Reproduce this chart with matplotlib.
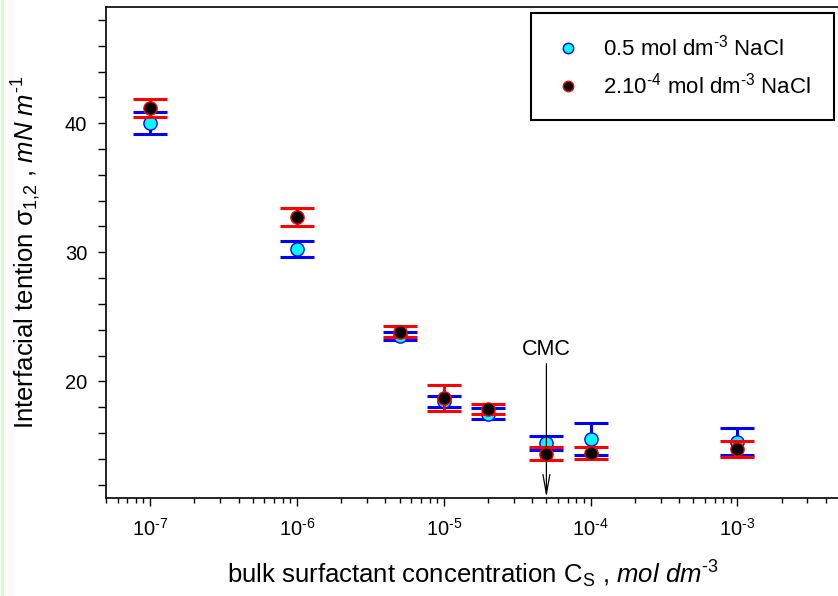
import numpy as np
import matplotlib
matplotlib.use("Agg")
import matplotlib.pyplot as plt
from matplotlib.ticker import LogLocator, MultipleLocator, NullFormatter, FuncFormatter

plt.rcParams['font.family'] = ['Liberation Sans', 'DejaVu Sans']
plt.rcParams['mathtext.fontset'] = 'custom'
plt.rcParams['mathtext.rm'] = 'Liberation Sans'
plt.rcParams['mathtext.it'] = 'Liberation Sans:italic'
plt.rcParams['axes.unicode_minus'] = False

# data
conc = [1e-7, 1e-6, 5e-6, 1e-5, 2e-5, 5e-5, 1e-4, 1e-3]
sig_nacl_05 = [40.0, 30.25, 23.5, 18.47, 17.5, 15.25, 15.55, 15.33]
err_nacl_05 = [0.85, 0.6, 0.33, 0.43, 0.4, 0.55, 1.22, 1.03]
sig_nacl_2e4 = [41.16, 32.72, 23.85, 18.68, 17.86, 14.38, 14.45, 14.77]
err_nacl_2e4 = [0.7, 0.72, 0.43, 1.0, 0.38, 0.5, 0.48, 0.6]
cmc = 5e-5

W, H = 838, 596
fig = plt.figure(figsize=(W / 100, H / 100), dpi=100)
ax = fig.add_axes([106 / W, 1 - 497.5 / H, (840 - 106) / W, (497.5 - 7) / H])

eb1 = ax.errorbar(conc, sig_nacl_05, yerr=err_nacl_05, fmt='o', color='#0000ff',
                  mfc='#00ffff', mec='#0000ff', mew=1, ms=9.5, elinewidth=2.2,
                  capsize=12, zorder=2)
eb2 = ax.errorbar(conc, sig_nacl_2e4, yerr=err_nacl_2e4, fmt='o', color='#ff0000',
                  mfc='black', mec='#ff0000', mew=1, ms=9.5, elinewidth=2.2,
                  capsize=12, zorder=3)
for eb in (eb1, eb2):
    for cap in eb[1]:
        cap.set_markeredgewidth(2.2)

# legend shows markers only
h1, = ax.plot([], [], 'o', mfc='#00ffff', mec='#0000ff', mew=1, ms=7.5)
h2, = ax.plot([], [], 'o', mfc='black', mec='#ff0000', mew=1, ms=7.5)
leg = ax.legend([h1, h2],
                ['0.5 mol dm$^{\\text{-3}}$ NaCl',
                 '2.10$^{\\text{-4}}$ mol dm$^{\\text{-3}}$ NaCl'],
                loc='upper left', bbox_to_anchor=(531 / W, 1 - 13.3 / H, 303 / W, 0),
                bbox_transform=fig.transFigure, mode='expand', borderaxespad=0,
                fontsize=16, fancybox=False, framealpha=1, edgecolor='black',
                borderpad=0.95, handlelength=1.4, handletextpad=0.9, labelspacing=0.55)
leg.get_frame().set_linewidth(1.5)

# CMC marker
ax.text(cmc, 22.45, 'CMC', ha='center', va='center', fontsize=15.5)
ax.annotate('', xy=(cmc, 11), xytext=(cmc, 21.37),
            arrowprops=dict(arrowstyle='->,head_length=1.4,head_width=0.25',
                            color='black', lw=0.9, shrinkA=0, shrinkB=0))

ax.set_xscale('log')
ax.set_xlim(5e-8, 5e-3)
ax.set_ylim(11, 49)
ax.xaxis.set_major_locator(LogLocator(base=10, numticks=12))
ax.xaxis.set_major_formatter(FuncFormatter(
    lambda v, pos: '10$^{\\text{%d}}$' % round(np.log10(v))))
ax.xaxis.set_minor_locator(LogLocator(base=10, subs=np.arange(2, 10), numticks=12))
ax.xaxis.set_minor_formatter(NullFormatter())
ax.yaxis.set_major_locator(MultipleLocator(10))
ax.yaxis.set_minor_locator(MultipleLocator(2))

ax.tick_params(axis='x', which='major', direction='out', length=6, width=1, labelsize=14.5, pad=9)
ax.tick_params(axis='x', which='minor', direction='out', length=3.5, width=1)
ax.tick_params(axis='y', which='both', direction='out', length=5.5, width=1, labelsize=14.5, pad=8)
ax.spines['right'].set_visible(False)
for s in ['left', 'bottom', 'top']:
    ax.spines[s].set_linewidth(1.2)

ax.set_xlabel('bulk surfactant concentration C$_{\\mathregular{S}}$ , $\\mathit{mol\\ dm}^{\\text{-3}}$',
              fontsize=18.5, labelpad=13)
ax.set_ylabel('Interfacial tention \u03c3$_{\\text{1,2}}$ , $\\mathit{mN\\ m}^{\\text{-1}}$',
              fontsize=18.5, labelpad=16)

# thin green strip at the left edge
fig.add_artist(plt.Line2D([2 / W, 2 / W], [0, 1], transform=fig.transFigure,
                          color='#ccffcc', lw=2))

fig.savefig('out.png', dpi=100)
